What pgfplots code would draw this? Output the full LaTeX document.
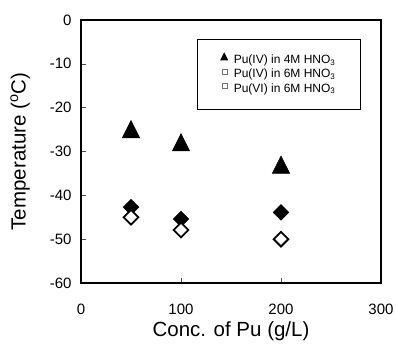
\documentclass[border=0pt]{standalone}
\usepackage{pgfplots}
\pgfplotsset{compat=1.18}
\usepackage{fontspec}
\setmainfont{Liberation Sans}
\begin{document}
\begin{tikzpicture}
\begin{axis}[
  scale only axis,
  width=300pt, height=263pt,
  xmin=0, xmax=300, ymin=-60, ymax=0,
  xtick={0,100,200,300},
  ytick={-60,-50,-40,-30,-20,-10,0},
  yticklabels={-60,-50,-40,-30,-20,-10,0},
  xticklabels={0,100,200,300},
  tick pos=left,
  tick align=inside,
  major tick length=5pt,
  tick style={black!70, line width=0.6pt},
  axis line style={line width=2.2pt},
  ticklabel style={font=\fontsize{15}{18}\selectfont},
  xticklabel style={anchor=base, yshift=-32pt},
  yticklabel style={anchor=east, xshift=-6pt},
  xlabel={Conc. of Pu (g/L)},
  ylabel={Temperature (\textsuperscript{o}C)},
  every axis x label/.style={at={(axis description cs:0.5,0)}, anchor=base, yshift=-54pt, font=\fontsize{20.5}{24}\selectfont},
  every axis y label/.style={at={(axis description cs:-0.203,0.5)}, rotate=90, anchor=center, font=\fontsize{20.5}{24}\selectfont},
  legend style={at={(axis cs:116,-4.33)}, anchor=north west, draw=black, line width=1.2pt, inner xsep=23pt, inner ysep=13.5pt, font=\fontsize{12}{14}\selectfont, column sep=4pt, row sep=0pt},
  legend cell align=left,
  clip=false,
]
\coordinate (O) at (rel axis cs:0,0);
\addplot[only marks, mark=triangle*, mark size=10pt,
  mark options={yshift=-2.9pt, yscale=1.15, fill=black, draw=black, line width=0.5pt},
  legend image code/.code={\fill[black] (0pt,0.5pt) -- (6pt,0.5pt) -- (3pt,6.5pt) -- cycle;}]
  coordinates {(50,-24.9) (100,-27.9) (200,-33.0)};
\addlegendentry{Pu(IV) in 4M HNO\textsubscript{3}}
\addplot[only marks, mark=square*, mark size=5.4pt,
  mark options={rotate=45, fill=black, draw=black, line width=0.8pt},
  legend image code/.code={\draw[black!55, line width=0.4pt] (0.5pt,0.5pt) rectangle (5.5pt,5.5pt);}]
  coordinates {(50,-42.7) (100,-45.4) (200,-43.9)};
\addlegendentry{Pu(IV) in 6M HNO\textsubscript{3}}
\addplot[only marks, mark=square*, mark size=5.2pt,
  mark options={rotate=45, fill=white, draw=black, line width=1.8pt},
  legend image code/.code={\draw[black!55, line width=0.4pt] (0.5pt,0.5pt) rectangle (5.5pt,5.5pt);}]
  coordinates {(50,-45.0) (100,-47.9) (200,-50.0)};
\addlegendentry{Pu(VI) in 6M HNO\textsubscript{3}\rule[-12pt]{0pt}{12pt}}
\end{axis}
\pgfresetboundingbox
\path (O) ++(-81pt,-61pt) rectangle ++(396pt,344pt);
\end{tikzpicture}
\end{document}
